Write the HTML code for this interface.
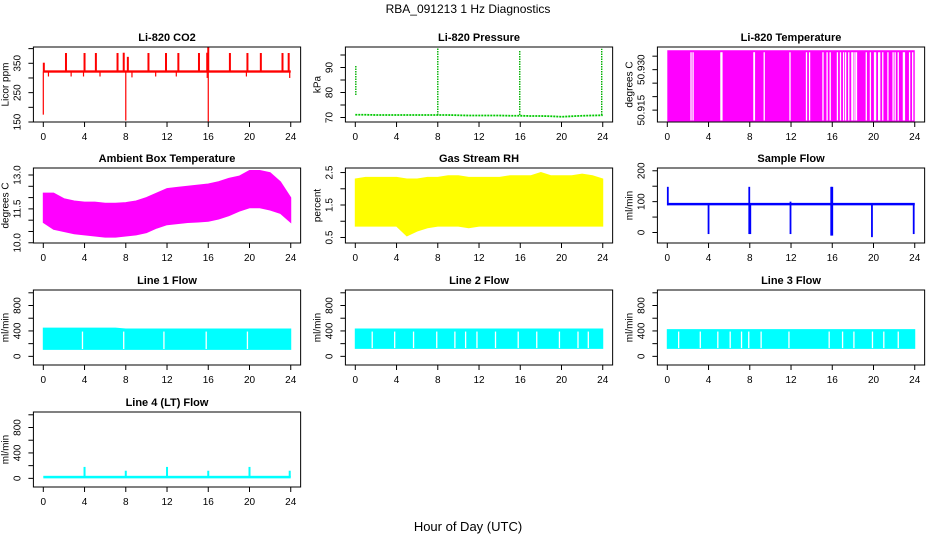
<!DOCTYPE html>
<html><head><meta charset="utf-8"><style>
html,body{margin:0;padding:0;background:#fff;}
svg{display:block;font-family:"Liberation Sans",sans-serif;}
</style></head><body>
<svg id="c" width="936" height="540" viewBox="0 0 936 540">
<text x="468" y="13" text-anchor="middle" font-size="12">RBA_091213  1 Hz Diagnostics</text>
<text x="468" y="531" text-anchor="middle" font-size="13">Hour of Day (UTC)</text>
</svg>
<script>
// ---- data ----
const hours = [0,1,2,3,4,5,6,7,8,9,10,11,12,13,14,15,16,17,18,19,20,21,22,23,24];
const xTicks = [0,4,8,12,16,20,24];
// CO2
const co2Base = 322;
const co2SpikeHours = [0.05,2.2,4.0,5.1,7.2,7.8,8.2,10.2,11.9,13.1,15.1,15.9,16.0,18.1,19.8,21.1,23.2,23.8];
const co2SpikeVals  = [352,385,385,385,385,386,372,385,385,385,385,386,405,385,385,385,385,385];
const co2DipHours = [0.0,8.0,16.0,0.5,2.7,3.9,5.5,8.6,10.9,12.9,15.9,19.7,23.9];
const co2DipVals  = [175,155,152,305,305,305,305,302,305,305,300,305,300];
// Pressure
const presBase = [71.1,71.1,71.0,71.0,71.0,71.0,71.0,71.0,71.0,71.0,70.9,70.8,70.8,70.8,70.8,70.7,70.7,70.6,70.6,70.5,70.3,70.5,70.7,70.8,70.9];
const presSpikeHours = [0.05,8.0,15.95,23.9];
const presSpikeLo = [79,71,71,71];
const presSpikeHi = [91,98,97,97.5];
// Li-820 temperature
const tempLo = 50.9108, tempHi = 50.9372;
const tempGapHours = [2.3,2.5,5.2,5.3,8.4,8.45,9.4,11.9,13.5,13.8,15.1,15.5,15.8,16.5,16.8,17.1,17.3,17.6,17.9,18.0,18.2,18.35,19.3,19.7,20.1,20.2,20.5,20.6,20.9,21.4,21.9,22.1,22.4,22.9,23.0,23.5,23.8];
// Ambient box temperature
const ambHi = [12.2,12.2,11.95,11.85,11.8,11.8,11.75,11.75,11.78,11.85,12.0,12.2,12.4,12.45,12.5,12.55,12.6,12.7,12.85,12.95,13.2,13.2,13.1,12.7,12.0];
const ambLo = [10.9,10.6,10.5,10.4,10.35,10.3,10.25,10.25,10.3,10.35,10.45,10.65,10.8,10.85,10.9,10.92,10.95,11.05,11.2,11.4,11.55,11.55,11.45,11.3,10.9];
// Gas stream RH
const rhHi = [2.3,2.35,2.35,2.35,2.35,2.3,2.3,2.35,2.35,2.4,2.4,2.35,2.35,2.35,2.35,2.4,2.4,2.4,2.5,2.4,2.4,2.4,2.45,2.4,2.3];
const rhLo = [0.85,0.85,0.85,0.85,0.85,0.55,0.7,0.8,0.85,0.85,0.85,0.8,0.85,0.85,0.85,0.85,0.85,0.85,0.85,0.85,0.85,0.85,0.85,0.85,0.85];
// Sample flow
const sfBase = 92;
const sfSpikeHours = [0.05,4.0,7.95,8.05,11.95,15.9,16.0,19.85,23.9];
const sfSpikeLo = [88,-5,-5,-5,-5,-10,-10,-15,-5];
const sfSpikeHi = [148,95,148,95,100,148,148,95,95];
// Line flows
const l1Hi = [445,445,445,445,445,445,445,445,430,430,430,430,430,430,430,430,430,430,430,430,430,430,430,430,430];
const l1Lo = [110,110,110,110,110,110,110,110,110,110,110,110,110,110,110,110,110,110,110,110,110,110,110,110,110];
const l1Gaps = [3.8,7.8,11.7,15.8,19.8];
const l2Hi = [430,430,430,430,430,430,430,430,430,430,430,430,430,430,430,430,430,430,430,430,430,430,430,430,430];
const l2Lo = [125,125,125,125,125,125,125,125,125,125,125,125,125,125,125,125,125,125,125,125,125,125,125,125,125];
const l2Gaps = [1.64,3.82,5.65,7.9,9.66,10.7,11.8,13.6,15.8,17.6,19.8,21.6,22.6];
const l3Hi = [420,420,420,420,420,420,420,420,420,420,420,420,420,420,420,420,420,420,420,420,420,420,420,420,420];
const l3Lo = [125,125,125,125,125,125,125,125,125,125,125,125,125,125,125,125,125,125,125,125,125,125,125,125,125];
const l3Gaps = [1.1,3.2,4.9,6.1,7.2,7.9,9.1,11.8,15.7,17.0,18.1,19.9,21.0,22.4];
const l4Base = 20;
const l4SpikeHours = [4.0,8.0,12.0,16.0,20.0,23.9];
const l4SpikeVals = [180,120,180,120,180,120];

// ---- layout ----
const svg = document.getElementById('c');
const NS = 'http://www.w3.org/2000/svg';
const colX0 = [43.3,355.3,667.3];
const rowTop = [47,168,290,412];
const boxH = 75, pxHour = 10.31;
function mk(tag, attrs, parent){
  const e = document.createElementNS(NS, tag);
  for (const k in attrs) e.setAttribute(k, attrs[k]);
  (parent||svg).appendChild(e);
  return e;
}
function panel(cfg){
  const g = mk('g', {});
  
  
  const x0 = colX0[cfg.col];
  const top = rowTop[cfg.row], bot = top + boxH;
  const left = x0 - 0.96*pxHour, right = x0 + 24.96*pxHour;
  const X = h => x0 + h*pxHour;
  const Y = v => bot - (v - cfg.lo)/(cfg.hi - cfg.lo)*boxH;
  const plot = mk('g', {}, g);
  
  
  cfg.draw(plot, X, Y);
  const box = mk('rect', {x:left, y:top, width:right-left, height:boxH, fill:'none', stroke:'#000', 'stroke-width':1}, g);
  
  
  const t = mk('text', {x:(left+right)/2, y:top-6, 'text-anchor':'middle', 'font-size':11, 'font-weight':'bold'}, g);
  t.textContent = cfg.title;
  
  
  xTicks.forEach(h => {
    mk('line', {x1:X(h), x2:X(h), y1:bot, y2:bot+5, stroke:'#000'}, g);
    const tx = mk('text', {x:X(h), y:bot+18, 'text-anchor':'middle', 'font-size':10}, g);
    tx.textContent = h;
    
    
  });
  cfg.ticks.forEach(v => {
    mk('line', {x1:left, x2:left-5, y1:Y(v), y2:Y(v), stroke:'#000'}, g);
  });
  cfg.labels.forEach((v,i) => {
    const ty = Y(v);
    const tl = mk('text', {x:left-13, y:ty, 'text-anchor':'middle', 'font-size':10, transform:`rotate(-90 ${left-13} ${ty})`}, g);
    tl.textContent = cfg.labelText[i];
    
    
  });
  const my = (top+bot)/2;
  const yl = mk('text', {x:left-25, y:my, 'text-anchor':'middle', 'font-size':10, transform:`rotate(-90 ${left-25} ${my})`}, g);
  yl.textContent = cfg.ylab;
  
  
}
function vline(p, x, y1, y2, col, w, dash){
  const a = {x1:x, x2:x, y1:y1, y2:y2, stroke:col, 'stroke-width':w||1.5};
  if (dash) a['stroke-dasharray'] = dash;
  return mk('line', a, p);
}
function band(p, X, Y, hi, lo, col){
  let d = hours.map((h,i)=>`${i?'L':'M'}${X(h)},${Y(hi[i])}`).join('');
  for (let i=hours.length-1;i>=0;i--) d += `L${X(hours[i])},${Y(lo[i])}`;
  return mk('path', {d:d+'Z', fill:col, stroke:col, 'stroke-width':1}, p);
}

panel({name:'co2-panel', title:'Li-820 CO2', ylab:'Licor ppm', col:0, row:0, lo:150, hi:405.5,
  ticks:[150,200,250,300,350,400], labels:[150,250,350], labelText:['150','250','350'],
  draw:(p,X,Y)=>{
    mk('rect',{x:X(0),y:Y(co2Base+4),width:X(24)-X(0),height:Y(co2Base-4)-Y(co2Base+4),fill:'#f00'},p);
    co2SpikeHours.forEach((h,i)=>vline(p,X(h),Y(co2Base),Y(co2SpikeVals[i]),'#f00',2));
    co2DipHours.forEach((h,i)=>vline(p,X(h),Y(co2Base),Y(co2DipVals[i]),'#f00',1.2));
  }});
panel({name:'pressure-panel', title:'Li-820 Pressure', ylab:'kPa', col:1, row:0, lo:68.2, hi:98.2,
  ticks:[70,75,80,85,90,95], labels:[70,80,90], labelText:['70','80','90'],
  draw:(p,X,Y)=>{
    mk('polyline',{points:hours.map((h,i)=>`${X(h)},${Y(presBase[i])}`).join(' '),fill:'none',stroke:'#00c800','stroke-width':1.8,'stroke-dasharray':'2 1'},p);
    presSpikeHours.forEach((h,i)=>vline(p,X(h),Y(presSpikeLo[i]),Y(presSpikeHi[i]),'#00b000',1.4,'1.5 1'));
  }});
panel({name:'li820-temperature-panel', title:'Li-820 Temperature', ylab:'degrees C', col:2, row:0, lo:50.9106, hi:50.9384,
  ticks:[50.915,50.92,50.925,50.93,50.935], labels:[50.915,50.93], labelText:['50.915','50.930'],
  draw:(p,X,Y)=>{
    mk('rect',{x:X(0),y:Y(tempHi),width:X(24)-X(0),height:Y(tempLo)-Y(tempHi),fill:'#f0f'},p);
    tempGapHours.forEach(h=>vline(p,X(h),Y(tempHi)+2,Y(tempLo)-1,'#fff',1.3));
  }});
panel({name:'ambient-box-temperature-panel', title:'Ambient Box Temperature', ylab:'degrees C', col:0, row:1, lo:9.99, hi:13.31,
  ticks:[10,10.5,11,11.5,12,12.5,13], labels:[10,11.5,13], labelText:['10.0','11.5','13.0'],
  draw:(p,X,Y)=>{ band(p,X,Y,ambHi,ambLo,'#f0f'); }});
panel({name:'gas-stream-rh-panel', title:'Gas Stream RH', ylab:'percent', col:1, row:1, lo:0.33, hi:2.64,
  ticks:[0.5,1,1.5,2,2.5], labels:[0.5,1.5,2.5], labelText:['0.5','1.5','2.5'],
  draw:(p,X,Y)=>{ band(p,X,Y,rhHi,rhLo,'#ff0'); }});
panel({name:'sample-flow-panel', title:'Sample Flow', ylab:'ml/min', col:2, row:1, lo:-34, hi:209,
  ticks:[0,50,100,150,200], labels:[0,100,200], labelText:['0','100','200'],
  draw:(p,X,Y)=>{
    mk('rect',{x:X(0),y:Y(sfBase+4),width:X(24)-X(0),height:Y(sfBase-4)-Y(sfBase+4),fill:'#00f'},p);
    sfSpikeHours.forEach((h,i)=>vline(p,X(h),Y(sfSpikeHi[i]),Y(sfSpikeLo[i]),'#00f',1.8));
  }});
function flowPanel(name,title,col,row,hi,lo,gaps){
  panel({name:name, title:title, ylab:'ml/min', col:col, row:row, lo:-136, hi:1044,
    ticks:[0,200,400,600,800,1000], labels:[0,400,800], labelText:['0','400','800'],
    draw:(p,X,Y)=>{
      band(p,X,Y,hi,lo,'#0ff');
      gaps.forEach(h=>vline(p,X(h),Y(390),Y(lo[0]+5),'#fff',1.3));
    }});
}
flowPanel('line-1-flow-panel','Line 1 Flow',0,2,l1Hi,l1Lo,l1Gaps);
flowPanel('line-2-flow-panel','Line 2 Flow',1,2,l2Hi,l2Lo,l2Gaps);
flowPanel('line-3-flow-panel','Line 3 Flow',2,2,l3Hi,l3Lo,l3Gaps);
panel({name:'line-4-flow-panel', title:'Line 4 (LT) Flow', ylab:'ml/min', col:0, row:3, lo:-136, hi:1044,
  ticks:[0,200,400,600,800,1000], labels:[0,400,800], labelText:['0','400','800'],
  draw:(p,X,Y)=>{
    mk('rect',{x:X(0),y:Y(l4Base+20),width:X(24)-X(0),height:Y(l4Base-20)-Y(l4Base+20),fill:'#0ff'},p);
    l4SpikeHours.forEach((h,i)=>vline(p,X(h),Y(l4Base),Y(l4SpikeVals[i]),'#0ff',2));
  }});
</script>
</body></html>
